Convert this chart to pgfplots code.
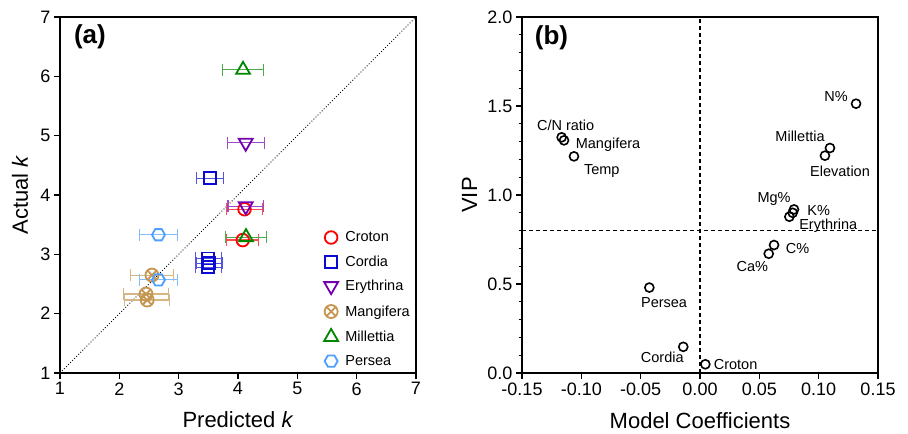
\documentclass[border=0pt]{standalone}
\usepackage{fontspec}
\setmainfont{Liberation Sans}
\usepackage{pgfplots}
\pgfplotsset{compat=1.18}
\definecolor{cCroton}{RGB}{255,0,0}
\definecolor{cCordia}{RGB}{10,10,210}
\definecolor{cEry}{RGB}{115,0,175}
\definecolor{cMang}{RGB}{196,150,80}
\definecolor{cMill}{RGB}{0,135,0}
\definecolor{cPers}{RGB}{77,160,255}
\pgfdeclareplotmark{hexagon}{%
  \pgfpathmoveto{\pgfqpointpolar{0}{\pgfplotmarksize}}%
  \pgfpathlineto{\pgfqpointpolar{60}{\pgfplotmarksize}}%
  \pgfpathlineto{\pgfqpointpolar{120}{\pgfplotmarksize}}%
  \pgfpathlineto{\pgfqpointpolar{180}{\pgfplotmarksize}}%
  \pgfpathlineto{\pgfqpointpolar{240}{\pgfplotmarksize}}%
  \pgfpathlineto{\pgfqpointpolar{300}{\pgfplotmarksize}}%
  \pgfpathclose\pgfusepathqstroke}
\newcommand{\tickfont}{\fontsize{18bp}{20bp}\selectfont}
\newcommand{\labfont}{\fontsize{22bp}{24bp}\selectfont}
\newcommand{\smfont}{\fontsize{14.5bp}{16bp}\selectfont}
\pgfplotsset{
  base/.style={
    scale only axis, width=356bp, height=356bp,
    axis line style={line width=1.3bp},
    every tick/.style={line width=1.3bp, black},
    major tick length=6bp, minor tick length=3.5bp,
    tick align=outside, xtick pos=left, ytick pos=left,
    /pgf/number format/assume math mode=true,
    tick label style={font=\tickfont},
    label style={font=\labfont},
  },
  ser/.style={only marks,
    /pgfplots/error bars/x dir=both, /pgfplots/error bars/x explicit,
    /pgfplots/error bars/error bar style={line width=1.2bp, #1!70!white},
    /pgfplots/error bars/error mark options={line width=1.2bp, mark size=6bp, rotate=90, #1!70!white}},
}
\begin{document}
\begin{tikzpicture}
\useasboundingbox (-60bp,-61bp) rectangle (848bp,373bp);
\begin{axis}[base,
  xmin=1, xmax=7, ymin=1, ymax=7,
  xtick={1,...,7}, ytick={1,...,7},
  xlabel={Predicted \textit{k}}, ylabel={Actual \textit{k}},
  xlabel style={at={(axis description cs:0.5,-0.152)}, anchor=base},
  ylabel style={at={(axis description cs:-0.09,0.5)}, anchor=base},
  legend style={draw=none, fill=none, font=\smfont, at={(axis description cs:1,0)}, anchor=south east,
    xshift=-2bp, yshift=3bp, row sep=10.4bp, nodes={inner sep=1bp}},
  legend cell align=left,
  legend image code/.code={\draw[#1] plot coordinates {(0bp,0bp)}; \path (-7bp,0bp) (13bp,0bp);},
]
\addplot[black, dotted, line width=0.9bp, forget plot] coordinates {(1,1) (7,7)};
\addplot[cCroton, ser=cCroton, mark=o, mark size=6.3bp, mark options={line width=1.8bp, solid}] table[row sep=\\, x error=ex] {
x y ex\\ 4.11 3.76 0.30\\ 4.08 3.24 0.27\\};
\addlegendentry{Croton}
\addplot[cCordia, ser=cCordia, mark=square, mark size=6bp, mark options={line width=1.8bp, solid}] table[row sep=\\, x error=ex] {
x y ex\\ 3.53 4.28 0.225\\ 3.50 2.93 0.22\\ 3.52 2.85 0.22\\ 3.50 2.78 0.22\\};
\addlegendentry{Cordia}
\addplot[cEry, ser=cEry, mark=triangle, mark size=8bp, mark options={line width=1.8bp, solid, rotate=180}] table[row sep=\\, x error=ex] {
x y ex\\ 4.13 4.88 0.31\\ 4.13 3.81 0.30\\};
\addlegendentry{Erythrina}
\addplot[cMang, ser=cMang, mark=otimes, mark size=6.5bp, mark options={line width=1.8bp, solid}] table[row sep=\\, x error=ex] {
x y ex\\ 2.55 2.65 0.36\\ 2.45 2.33 0.385\\ 2.47 2.23 0.38\\};
\addlegendentry{Mangifera}
\addplot[cMill, ser=cMill, mark=triangle, mark size=8bp, mark options={line width=1.8bp, solid}] table[row sep=\\, x error=ex] {
x y ex\\ 4.085 6.11 0.34\\ 4.135 3.29 0.345\\};
\addlegendentry{Millettia}
\addplot[cPers, ser=cPers, mark=hexagon, mark size=6.5bp, mark options={line width=1.8bp, solid}] table[row sep=\\, x error=ex] {
x y ex\\ 2.66 3.33 0.315\\ 2.66 2.57 0.315\\};
\addlegendentry{Persea}
\node[font=\bfseries\fontsize{26bp}{28bp}\selectfont] at (rel axis cs:0.084,0.944) {(a)};
\end{axis}

\begin{axis}[base, at={(462bp,0bp)},
  xmin=-0.15, xmax=0.15, ymin=0, ymax=2,
  xtick={-0.15,-0.10,...,0.151}, ytick={0,0.5,...,2.01},
  minor ytick={0.1,0.2,...,1.95},
  xticklabel style={/pgf/number format/.cd, fixed, fixed zerofill, precision=2},
  yticklabel style={/pgf/number format/.cd, fixed, fixed zerofill, precision=1},
  xlabel={Model Coefficients}, ylabel={VIP},
  xlabel style={at={(axis description cs:0.5,-0.157)}, anchor=base},
  ylabel style={at={(axis description cs:-0.126,0.5)}, anchor=base},
]
\addplot[black, line width=1.3bp, dash pattern=on 4bp off 3bp] coordinates {(0,0) (0,2)};
\addplot[black, line width=1.3bp, dash pattern=on 4bp off 3bp] coordinates {(-0.15,0.8) (0.15,0.8)};
\addplot[only marks, black, mark=o, mark size=4.5bp, mark options={line width=1.6bp}] table[row sep=\\] {
x y\\
0.1315 1.513\\
-0.1166 1.324\\
-0.1146 1.307\\
-0.1062 1.217\\
0.1095 1.264\\
0.1053 1.221\\
0.0792 0.919\\
0.0781 0.900\\
0.0753 0.878\\
0.0624 0.719\\
0.0579 0.670\\
-0.0427 0.480\\
-0.0141 0.147\\
0.0045 0.049\\
};
\begin{scope}[every node/.style={font=\smfont, inner sep=0pt}]
\node at (axis cs:0.1146,1.553) {N\%};
\node at (axis cs:-0.1132,1.391) {C/N ratio};
\node at (axis cs:-0.0775,1.283) {Mangifera};
\node at (axis cs:-0.0828,1.133) {Temp};
\node at (axis cs:0.0843,1.329) {Millettia};
\node at (axis cs:0.118,1.133) {Elevation};
\node at (axis cs:0.0624,0.975) {Mg\%};
\node at (axis cs:0.1,0.912) {K\%};
\node at (axis cs:0.1081,0.829) {Erythrina};
\node at (axis cs:0.0823,0.700) {C\%};
\node at (axis cs:0.0441,0.596) {Ca\%};
\node at (axis cs:-0.0303,0.396) {Persea};
\node at (axis cs:-0.0318,0.088) {Cordia};
\node at (axis cs:0.030,0.047) {Croton};
\end{scope}
\node[font=\bfseries\fontsize{26bp}{28bp}\selectfont] at (rel axis cs:0.083,0.941) {(b)};
\end{axis}
\end{tikzpicture}
\end{document}
